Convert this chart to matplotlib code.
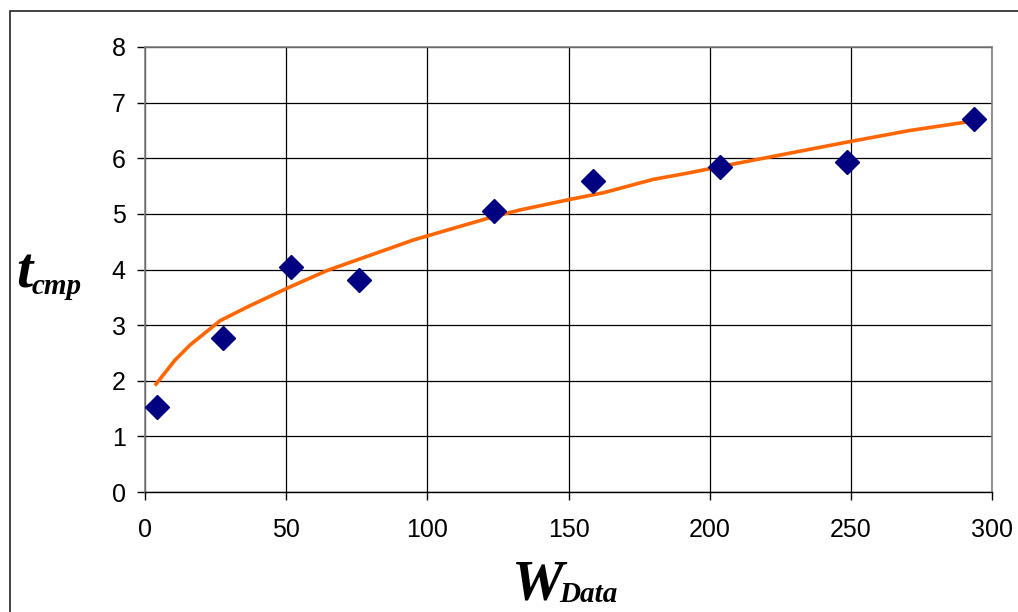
import matplotlib.pyplot as plt
from matplotlib.patches import Rectangle

# --- measured points ---
w_data = [4.3, 27.6, 51.7, 75.8, 123.6, 158.7, 203.7, 248.7, 293.7]
t_cmp = [1.53, 2.77, 4.05, 3.81, 5.05, 5.59, 5.85, 5.94, 6.71]

# --- trend line ---
trend_x = [3.9, 10.6, 15.9, 26.6, 36.0, 50.2, 64.4, 80.0, 95.0, 123.4,
           132.8, 150.5, 162.4, 180.0, 193.0, 203.7, 249.7, 271.0, 292.2]
trend_y = [1.94, 2.37, 2.64, 3.08, 3.32, 3.66, 3.98, 4.26, 4.53, 4.95,
           5.07, 5.26, 5.38, 5.62, 5.74, 5.85, 6.30, 6.50, 6.66]

x_ticks = [0, 50, 100, 150, 200, 250, 300]
y_ticks = [0, 1, 2, 3, 4, 5, 6, 7, 8]

W, H = 1018, 612
fig = plt.figure(figsize=(W / 100, H / 100), dpi=100)
ax = fig.add_axes([145 / W, 1 - 492 / H, (992 - 145) / W, (492 - 47) / H])

ax.plot(trend_x, trend_y, color="#ff6600", lw=2.6, zorder=3)
ax.plot(w_data, t_cmp, ls="none", marker="D", ms=12,
        color="#000080", zorder=4)

ax.set_xlim(0, 300)
ax.set_ylim(0, 8)
ax.set_xticks(x_ticks)
ax.set_yticks(y_ticks)
ax.grid(True, color="black", lw=0.9)
ax.set_axisbelow(True)

for side in ["left", "top", "right"]:
    ax.spines[side].set_color("#808080")
    ax.spines[side].set_linewidth(1.2)
ax.spines["bottom"].set_color("black")
ax.spines["bottom"].set_linewidth(1.0)

ax.tick_params(axis="both", length=6, width=1.0, color="black",
               labelsize=18, pad=8)
ax.tick_params(axis="x", pad=13)
for lab in ax.get_xticklabels() + ax.get_yticklabels():
    lab.set_fontfamily("Liberation Sans")

# axis titles: big letter + small subscript
serif = dict(family="Liberation Serif", style="italic", weight="bold",
             va="baseline", ha="left")
fig.text(16 / W, 1 - 288 / H, "t", fontsize=42, **serif)
fig.text(32 / W, 1 - 294 / H, "cmp", fontsize=21, **serif)
fig.text(512 / W, 1 - 600 / H, "W", fontsize=42, **serif)
fig.text(559 / W, 1 - 602 / H, "Data", fontsize=21, **serif)

# outer chart border (cut off at right and bottom)
fig.patches.append(Rectangle((10 / W, -0.2), 1.2, 1.2 - 11 / H,
                             transform=fig.transFigure, fill=False,
                             edgecolor="#222222", lw=1.2))

fig.savefig("out.png", dpi=100)
